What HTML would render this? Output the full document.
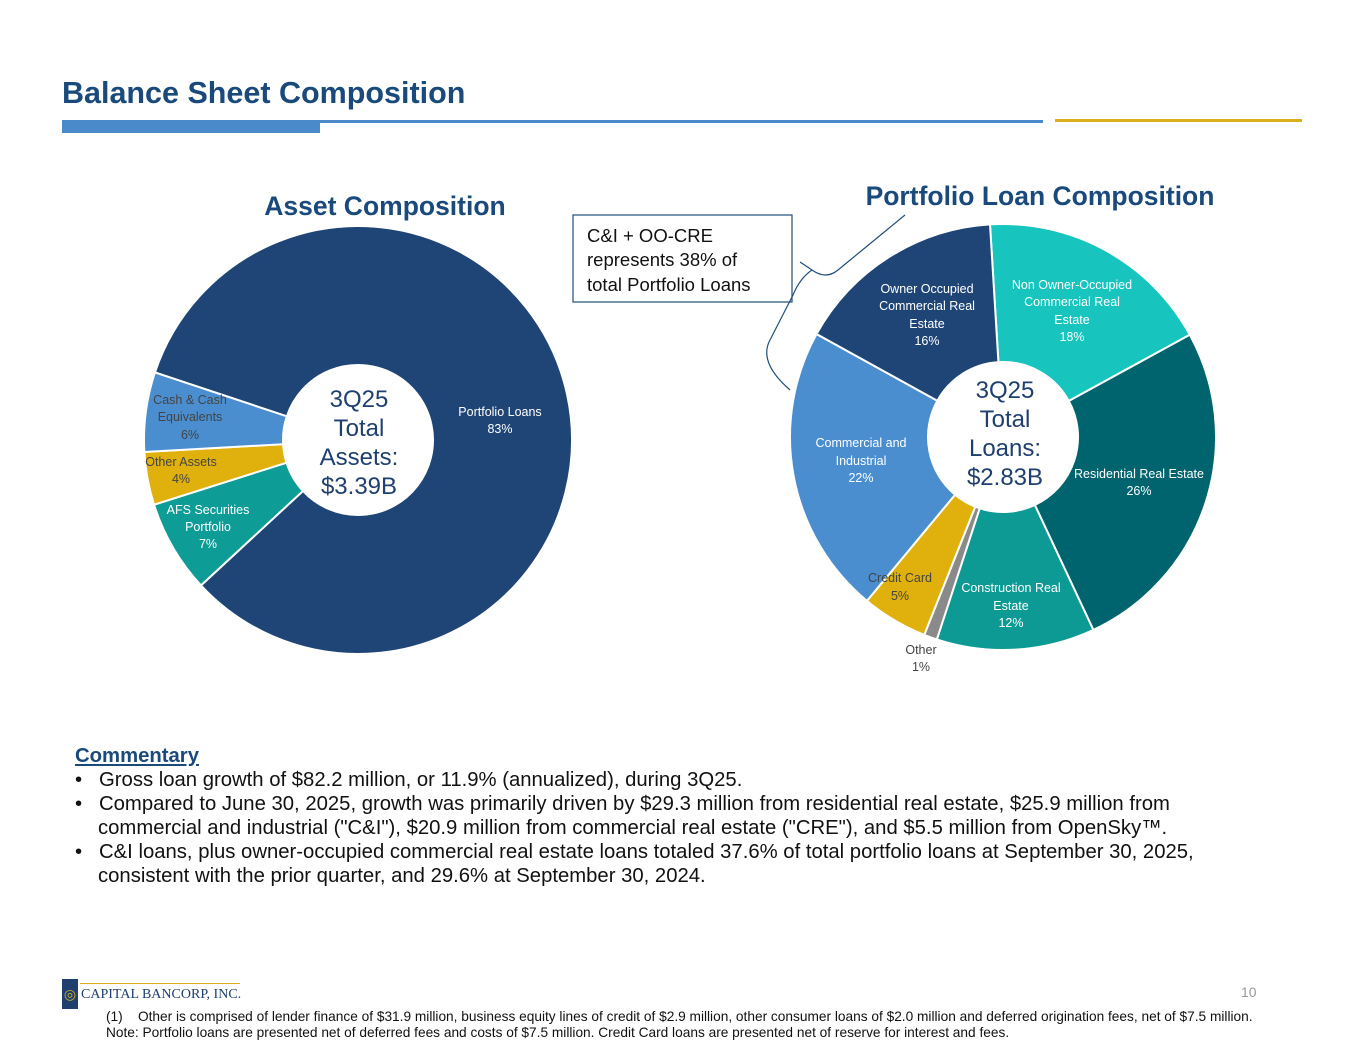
<!DOCTYPE html>
<html><head><meta charset="utf-8"><style>
body{margin:0;background:#fff;font-family:"Liberation Sans",sans-serif}
#page{position:relative;width:1365px;height:1055px;overflow:hidden}
.abs{position:absolute}
</style></head><body>
<div id="page">
<div class="abs" style="left:62px;top:76px;font-size:30.5px;font-weight:bold;color:#1A4A7C">Balance Sheet Composition</div>
<div class="abs" style="left:62px;top:120px;width:981px;height:3px;background:#4A8ACB"></div>
<div class="abs" style="left:62px;top:120px;width:258px;height:13px;background:#4A8ACB"></div>
<div class="abs" style="left:1055px;top:119px;width:247px;height:3px;background:#D9B01C"></div>

<svg class="abs" style="left:0;top:0" width="1365" height="720">
<g id="left"></g><g id="right"></g>
<text x="385" y="215" text-anchor="middle" font-size="26.5" font-weight="bold" fill="#1A4A7C">Asset Composition</text>
<text x="1040" y="205" text-anchor="middle" font-size="26.5" font-weight="bold" fill="#1A4A7C">Portfolio Loan Composition</text>
<g font-size="12.5" fill="#fff" text-anchor="middle">
<text x="500" y="416">Portfolio Loans</text><text x="500" y="433">83%</text>
<text x="190" y="404" fill="#444">Cash &amp; Cash</text><text x="190" y="421" fill="#444">Equivalents</text><text x="190" y="439" fill="#444">6%</text>
<text x="181" y="466" fill="#444">Other Assets</text><text x="181" y="483" fill="#444">4%</text>
<text x="208" y="514">AFS Securities</text><text x="208" y="531">Portfolio</text><text x="208" y="548">7%</text>
</g>
<g font-size="24" fill="#1F3F6E" text-anchor="middle">
<text x="359" y="407">3Q25</text><text x="359" y="436">Total</text><text x="359" y="465">Assets:</text><text x="359" y="494">$3.39B</text></g>
<g font-size="24" fill="#1F3F6E" text-anchor="middle">
<text x="1005" y="398">3Q25</text><text x="1005" y="427">Total</text><text x="1005" y="456">Loans:</text><text x="1005" y="485">$2.83B</text></g>
<g font-size="12.5" fill="#fff" text-anchor="middle">
<text x="927" y="293">Owner Occupied</text><text x="927" y="310">Commercial Real</text><text x="927" y="328">Estate</text><text x="927" y="345">16%</text>
<text x="1072" y="289">Non Owner-Occupied</text><text x="1072" y="306">Commercial Real</text><text x="1072" y="324">Estate</text><text x="1072" y="341">18%</text>
<text x="1139" y="478">Residential Real Estate</text><text x="1139" y="495">26%</text>
<text x="1011" y="592">Construction Real</text><text x="1011" y="610">Estate</text><text x="1011" y="627">12%</text>
<text x="900" y="582" fill="#444">Credit Card</text><text x="900" y="600" fill="#444">5%</text>
<text x="921" y="654" fill="#444">Other</text><text x="921" y="671" fill="#444">1%</text>
<text x="861" y="447">Commercial and</text><text x="861" y="465">Industrial</text><text x="861" y="482">22%</text>
</g>
<rect x="573" y="215" width="219" height="87" fill="#fff" stroke="#1F4E79" stroke-width="1.2"/>
<g font-size="18.5" fill="#111"><text x="587" y="242">C&amp;I + OO-CRE</text><text x="587" y="266">represents 38% of</text><text x="587" y="291">total Portfolio Loans</text></g>
<path d="M905 215 L838 270 Q826 280 812 270 L800 262 M812 270 Q800 278 793 295 L770 340 Q758 362 790 390" fill="none" stroke="#1F4E79" stroke-width="1.2"/>
</svg>

<div class="abs" style="left:75px;top:744px;font-size:20.3px;color:#111;line-height:24px;width:1150px">
<div style="font-weight:bold;color:#1A4A7C;text-decoration:underline">Commentary</div>
<div style="padding-left:23px;text-indent:-23px">•&nbsp;&nbsp; Gross loan growth of $82.2 million, or 11.9% (annualized), during 3Q25.</div>
<div style="padding-left:23px;text-indent:-23px">•&nbsp;&nbsp; Compared to June 30, 2025, growth was primarily driven by $29.3 million from residential real estate, $25.9 million from commercial and industrial ("C&amp;I"), $20.9 million from commercial real estate ("CRE"), and $5.5 million from OpenSky™.</div>
<div style="padding-left:23px;text-indent:-23px">•&nbsp;&nbsp; C&amp;I loans, plus owner-occupied commercial real estate loans totaled 37.6% of total portfolio loans at September 30, 2025, consistent with the prior quarter, and 29.6% at September 30, 2024.</div>
</div>

<div class="abs" style="left:62px;top:979px;width:16px;height:30px;background:#1F3F6E;color:#D9B01C;font-size:14px;text-align:center;line-height:30px">◎</div>
<div class="abs" style="left:80px;top:983px;width:160px;height:1px;background:#D9B01C"></div>
<div class="abs" style="left:81px;top:987px;font-family:'Liberation Serif',serif;font-size:14px;color:#1F3F6E">CAPITAL BANCORP, INC.</div>
<div class="abs" style="left:1241px;top:984px;font-size:14px;color:#999">10</div>
<div class="abs" style="left:106px;top:1009px;font-size:13.7px;color:#111;line-height:16px;white-space:nowrap">
<div>(1)&nbsp;&nbsp;&nbsp; Other is comprised of lender finance of $31.9 million, business equity lines of credit of $2.9 million, other consumer loans of $2.0 million and deferred origination fees, net of $7.5 million.</div>
<div>Note: Portfolio loans are presented net of deferred fees and costs of $7.5 million. Credit Card loans are presented net of reserve for interest and fees.</div></div>
</div>
<script>
const assetCategories=["Portfolio Loans","AFS Securities Portfolio","Other Assets","Cash & Cash Equivalents"];
const assetValues=[83,7,4,6];
const assetColors=["#1F4576","#0E9C96","#E0B00C","#4A8ED0"];
const loanCategories=["Non Owner-Occupied CRE","Residential Real Estate","Construction Real Estate","Other","Credit Card","Commercial and Industrial","Owner Occupied CRE"];
const loanValues=[18,26,12,1,5,22,16];
const loanColors=["#17C5BE","#00646E","#0D9A94","#8A8A8A","#E0B00C","#4A8ED0","#1F4576"];
function donut(gid,vals,cols,names,cx,cy,R,r,start){
  const g=document.getElementById(gid);
  const tot=vals.reduce((a,b)=>a+b,0);
  let a=start;
  const pt=(ang,rad)=>[cx+rad*Math.sin(ang*Math.PI/180),cy-rad*Math.cos(ang*Math.PI/180)];
  vals.forEach((v,i)=>{
    const sweep=v/tot*360,b=a+sweep,lg=sweep>180?1:0;
    const [x1,y1]=pt(a,R),[x2,y2]=pt(b,R),[x3,y3]=pt(b,r),[x4,y4]=pt(a,r);
    const p=document.createElementNS("http://www.w3.org/2000/svg","path");
    p.setAttribute("d",`M${x1} ${y1}A${R} ${R} 0 ${lg} 1 ${x2} ${y2}L${x3} ${y3}A${r} ${r} 0 ${lg} 0 ${x4} ${y4}Z`);
    p.setAttribute("fill",cols[i]);p.setAttribute("stroke","#fff");p.setAttribute("stroke-width","2");
    
    
    g.appendChild(p);a=b;
  });
}
donut("left",assetValues,assetColors,assetCategories,358,440,214,75,288.4);
donut("right",loanValues,loanColors,loanCategories,1003,437,213,75,-3.5);
</script>
</body></html>
